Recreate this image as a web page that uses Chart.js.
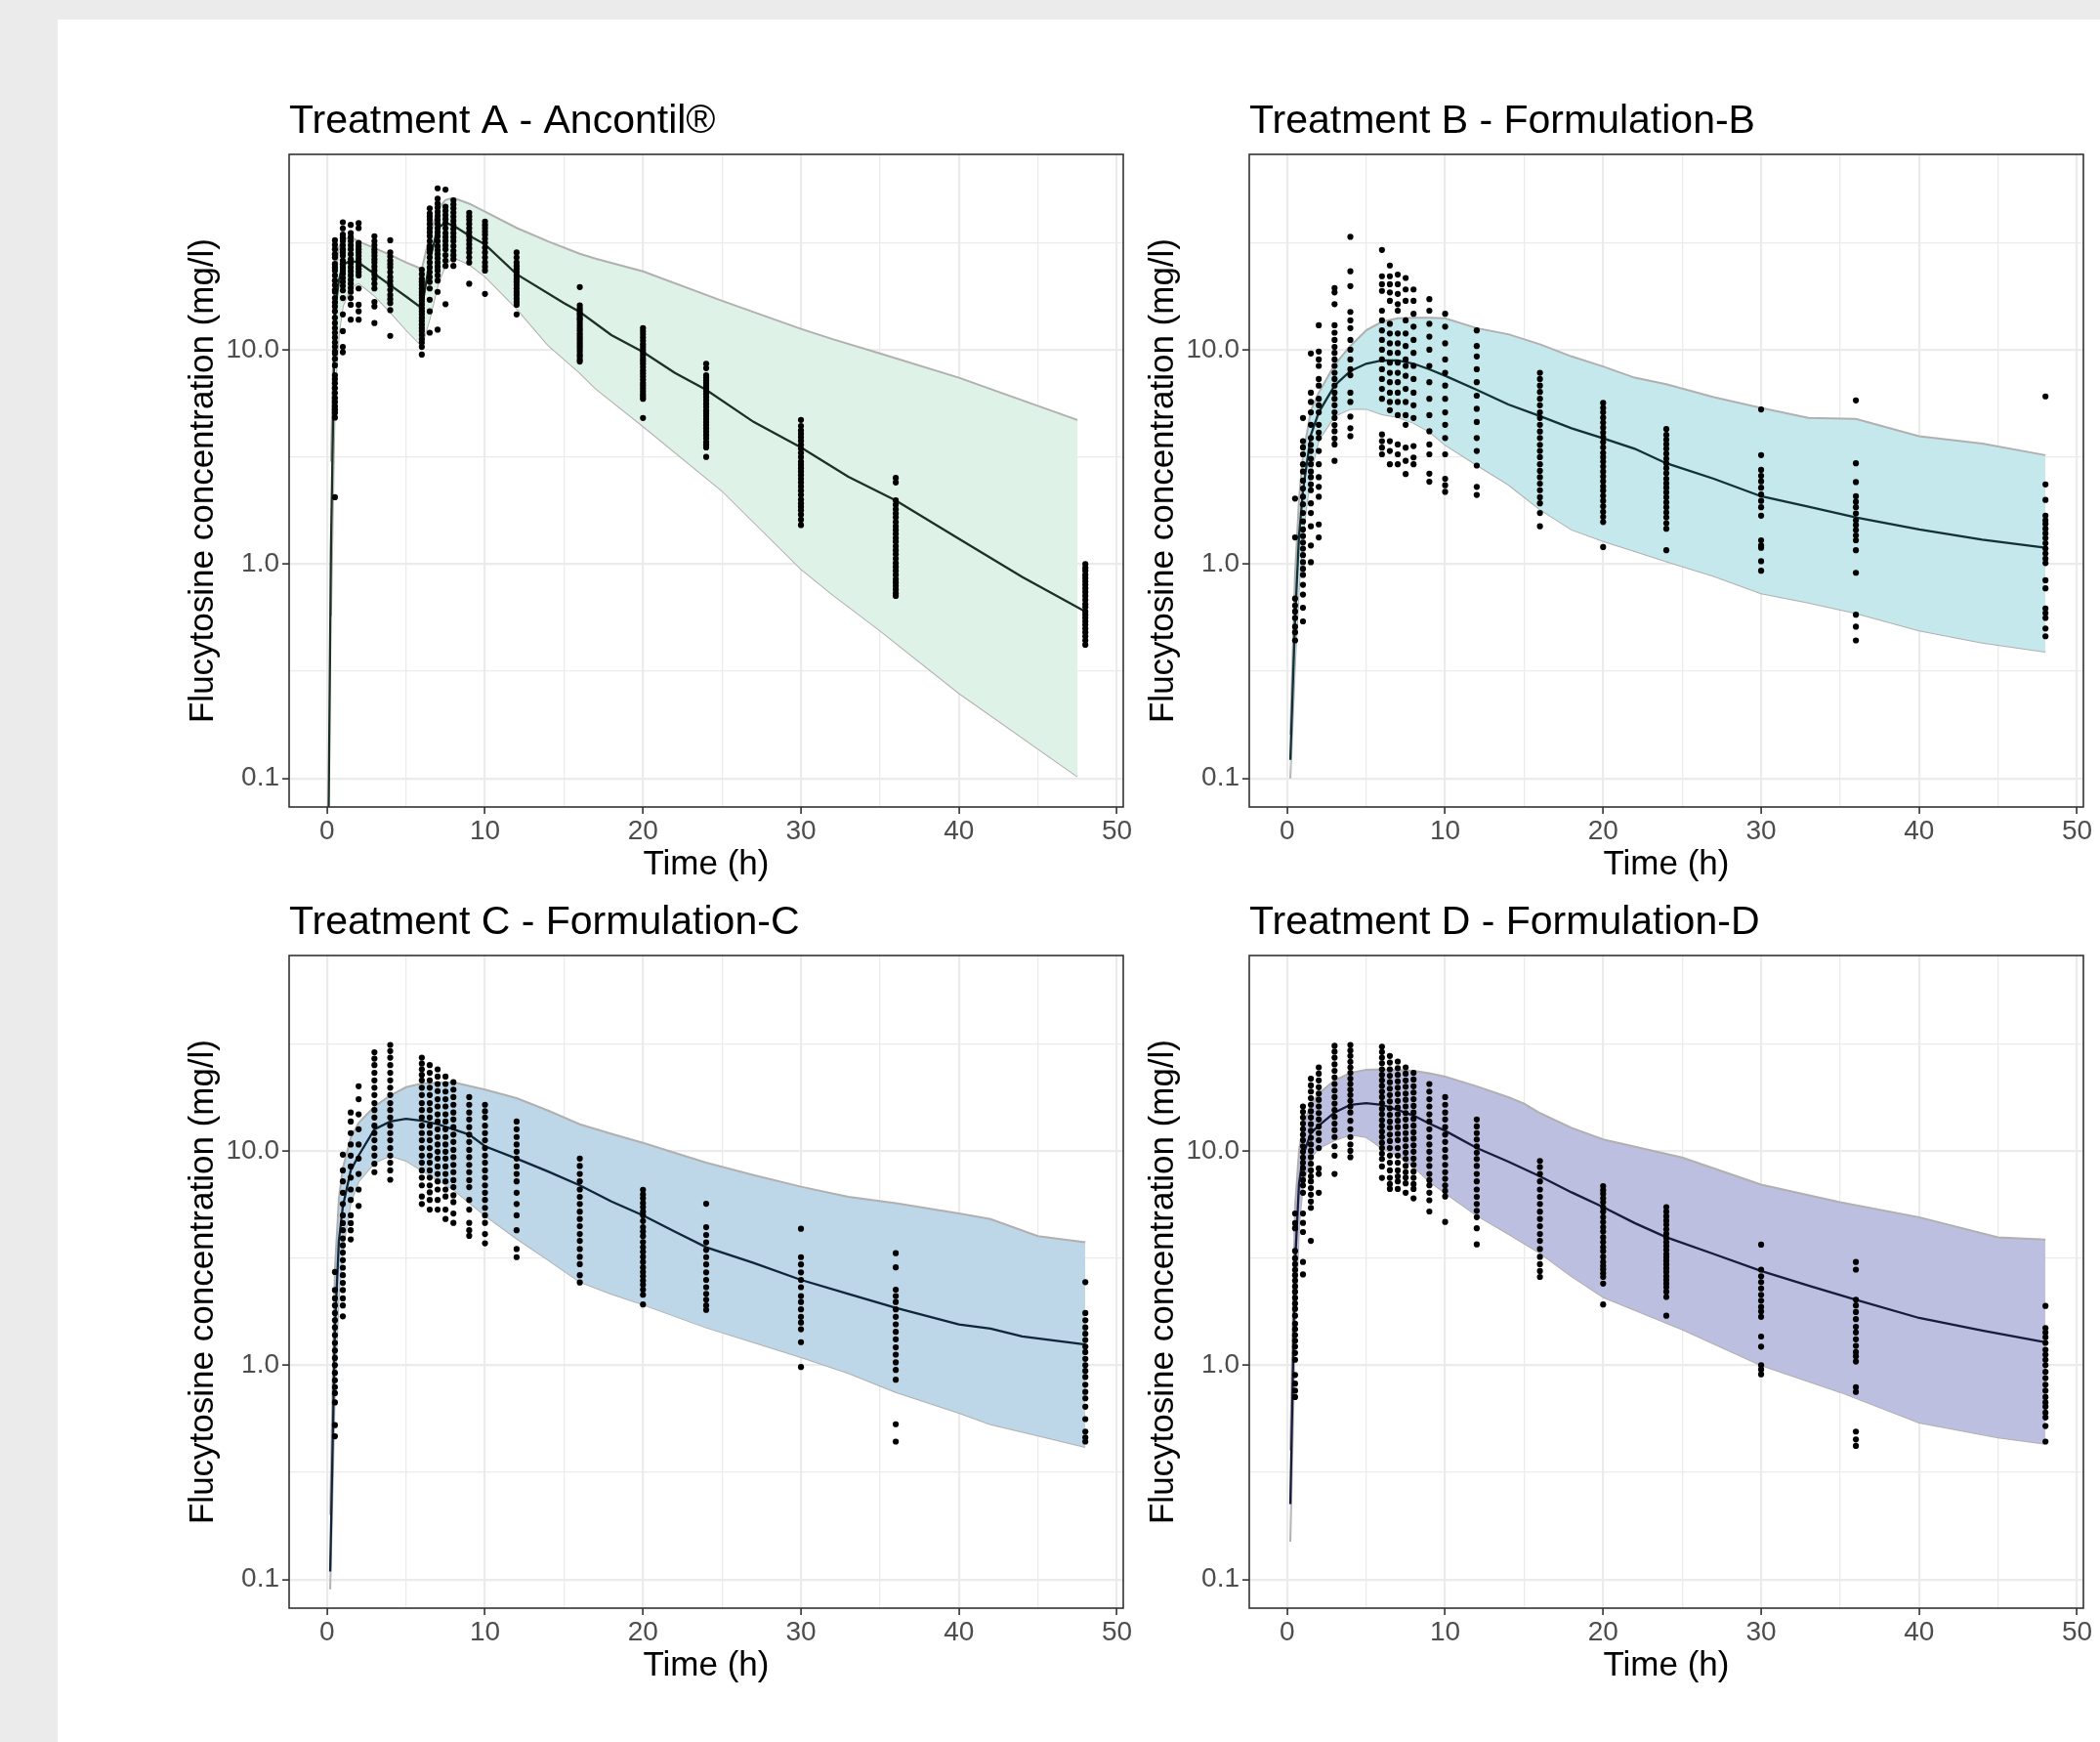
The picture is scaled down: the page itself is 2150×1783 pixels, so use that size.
<!DOCTYPE html>
<html>
<head>
<meta charset="utf-8">
<script src="https://cdn.jsdelivr.net/npm/chart.js@4.4.1/dist/chart.umd.min.js"></script>
<style>
html,body{margin:0;padding:0;width:2150px;height:1783px;overflow:hidden;background:#EBEBEB;}
#sheet{position:absolute;left:59px;top:20px;width:2091px;height:1763px;background:#ffffff;}
canvas{position:absolute;}
</style>
</head>
<body>
<div id="sheet"></div>
<canvas id="cA" width="1020" height="822" style="left:150px;top:94px;width:1020px;height:822px"></canvas>
<canvas id="cB" width="1016" height="822" style="left:1133px;top:94px;width:1016px;height:822px"></canvas>
<canvas id="cC" width="1020" height="822" style="left:150px;top:914px;width:1020px;height:822px"></canvas>
<canvas id="cD" width="1016" height="822" style="left:1133px;top:914px;width:1016px;height:822px"></canvas>
<script>
// ---------------- Titles / labels ----------------
const panelTitles = ['Treatment A - Ancontil®', 'Treatment B - Formulation-B', 'Treatment C - Formulation-C', 'Treatment D - Formulation-D'];
const xAxisTitle = 'Time (h)';
const yAxisTitle = 'Flucytosine concentration (mg/l)';

// ---------------- Axis ticks ----------------
const xMajorTicks = [0, 10, 20, 30, 40, 50];
const xMinorTicks = [5, 15, 25, 35, 45];
const xTickLabels = ['0', '10', '20', '30', '40', '50'];
const yMajorTicks = [0.1, 1, 10];
const yMinorTicks = [0.316, 3.16, 31.6];
const yTickLabels = ['0.1', '1.0', '10.0'];
const xRange = [-2.4, 50.4];
const yRange = [0.0735, 81.5];

// ---------------- Panel A ----------------
const obsTimesA = [0.5, 1, 1.5, 2, 3, 4, 6, 6.5, 7, 7.5, 8, 9, 10, 12, 16, 20, 24, 30, 36, 48];
const obsA = [
  [32.4, 30.8, 29.4, 27.9, 26.9, 25.1, 24.2, 23.4, 22.2, 21.0, 20.0, 19.0, 18.6, 17.4, 16.6, 15.9, 15.1, 14.1, 13.3, 12.6, 12.0, 11.4, 10.8, 10.3, 9.8, 9.6, 9.06, 8.45, 7.6, 7.3, 6.97, 6.61, 6.27, 5.95, 5.7, 5.45, 5.25, 5.08, 4.82, 2.05],
  [39.3, 36.8, 34.4, 33.2, 32.1, 30.7, 29.4, 28.4, 27.4, 26.0, 25.1, 24.2, 23.4, 22.6, 21.6, 20.7, 19.8, 18.9, 17.4, 14.6, 12.2, 10.3, 9.72],
  [38.2, 35.0, 33.5, 32.1, 30.7, 29.4, 27.9, 26.4, 25.3, 24.2, 23.2, 22.2, 21.2, 20.3, 19.4, 18.6, 17.4, 16.2, 13.8],
  [38.9, 36.9, 31.5, 30.4, 29.4, 28.4, 27.4, 26.4, 25.5, 24.6, 23.8, 23.0, 22.2, 19.3, 16.2, 15.1, 13.8],
  [33.8, 32.1, 30.7, 29.4, 28.4, 27.4, 26.4, 25.5, 24.4, 23.4, 22.4, 21.4, 20.3, 19.3, 16.7, 15.9, 13.3],
  [32.4, 28.4, 27.2, 26.0, 25.1, 24.2, 23.0, 21.8, 20.9, 20.0, 19.0, 18.0, 17.2, 16.5, 15.3, 11.6],
  [23.6, 22.5, 21.4, 20.7, 20.0, 19.3, 18.6, 18.0, 17.4, 16.8, 16.2, 15.6, 15.1, 14.6, 14.1, 13.6, 13.1, 12.6, 12.2, 11.7, 11.2, 10.8, 10.3, 9.49],
  [45.6, 43.2, 41.7, 40.3, 38.6, 36.9, 35.3, 33.8, 32.1, 30.4, 29.4, 28.4, 26.9, 25.5, 24.2, 23.0, 21.8, 20.7, 19.3, 17.1, 15.1, 12.0],
  [56.6, 50.6, 48.0, 46.0, 44.0, 42.1, 40.3, 38.6, 36.9, 35.3, 33.8, 32.1, 30.4, 29.1, 27.9, 26.7, 25.5, 24.4, 23.4, 22.2, 21.0, 18.6, 12.4],
  [55.8, 46.4, 44.4, 42.5, 40.7, 38.9, 36.9, 35.0, 33.5, 32.1, 30.7, 29.4, 27.6, 26.0, 24.6, 16.3],
  [49.7, 47.6, 45.6, 43.6, 41.7, 39.9, 38.2, 36.6, 35.0, 33.5, 32.1, 30.4, 28.9, 27.6, 26.4, 24.6],
  [43.5, 41.9, 40.3, 38.6, 36.9, 35.3, 33.8, 32.4, 31.0, 29.7, 28.4, 26.9, 25.5, 20.3],
  [39.6, 38.2, 36.9, 35.6, 34.4, 32.9, 31.5, 29.9, 28.4, 26.9, 25.5, 24.4, 23.4, 18.2],
  [28.4, 26.9, 25.5, 24.6, 23.8, 23.0, 22.2, 21.4, 20.7, 20.0, 19.3, 18.6, 18.0, 17.3, 16.7, 16.2, 14.6],
  [19.6, 16.1, 15.6, 15.2, 14.8, 14.5, 14.1, 13.8, 13.4, 13.0, 12.6, 12.3, 11.9, 11.6, 11.3, 11.0, 10.7, 10.4, 10.1, 9.8, 9.5, 9.3, 9.0, 8.8],
  [12.6, 12.2, 11.8, 11.4, 11.0, 10.6, 10.3, 10.0, 9.7, 9.4, 9.1, 8.85, 8.6, 8.3, 8.0, 7.75, 7.5, 7.25, 7.0, 6.8, 6.6, 6.4, 6.2, 6.05, 5.9, 4.8],
  [8.6, 8.2, 7.6, 7.4, 7.2, 7.0, 6.8, 6.6, 6.4, 6.2, 6.0, 5.8, 5.6, 5.4, 5.2, 5.05, 4.9, 4.75, 4.6, 4.45, 4.3, 4.15, 4.0, 3.85, 3.7, 3.6, 3.5, 3.16],
  [4.7, 4.4, 4.2, 4.05, 3.9, 3.75, 3.6, 3.45, 3.3, 3.15, 3.0, 2.9, 2.8, 2.7, 2.6, 2.5, 2.4, 2.3, 2.2, 2.1, 2.0, 1.92, 1.85, 1.78, 1.7, 1.61, 1.52],
  [2.52, 2.4, 1.98, 1.89, 1.8, 1.72, 1.65, 1.57, 1.5, 1.44, 1.38, 1.32, 1.27, 1.21, 1.16, 1.11, 1.06, 1.01, 0.97, 0.93, 0.89, 0.85, 0.82, 0.79, 0.76, 0.73, 0.71],
  [1.0, 0.96, 0.93, 0.89, 0.86, 0.83, 0.8, 0.77, 0.74, 0.71, 0.68, 0.65, 0.63, 0.6, 0.58, 0.56, 0.54, 0.52, 0.5, 0.48, 0.46, 0.44, 0.42]
];
const lineTimesA = [0, 0.25, 0.5, 0.75, 1, 1.5, 2, 3, 4, 5, 6, 6.5, 7, 7.5, 8, 9, 10, 12, 15, 16, 18, 20, 22, 24, 27, 30, 33, 36, 40, 44, 48];
const medianA = [0.01, 1.2, 15, 21, 25, 26, 25.5, 22.6, 20, 17.7, 15.6, 26, 37, 39, 38, 34, 31, 22.5, 16.5, 15, 11.7, 9.75, 7.8, 6.5, 4.6, 3.5, 2.55, 1.98, 1.31, 0.87, 0.6];
const bandTimesA = [0.25, 0.5, 0.75, 1, 1.5, 2, 3, 4, 5, 6, 6.5, 7, 7.5, 8, 9, 10, 12, 14, 16, 17, 20, 25, 30, 32, 35, 40, 47.5];
const upperA = [3.0, 22, 30, 32.5, 33.5, 32, 29.8, 27.7, 25.5, 23.8, 34, 45, 50, 51, 48, 44, 37, 32, 28, 26.6, 23.2, 16.9, 12.5, 11.2, 9.6, 7.4, 4.7];
const lowerA = [0.57, 6.5, 12, 16, 19.5, 20.5, 17.9, 15.0, 12.4, 10.4, 14, 20, 25, 27, 25, 22, 15.6, 10.5, 7.8, 6.6, 4.4, 2.2, 0.95, 0.72, 0.49, 0.25, 0.102];

// ---------------- Panel B ----------------
const obsTimesB = [0.5, 1, 1.5, 2, 3, 4, 6, 6.5, 7, 7.5, 8, 9, 10, 12, 16, 20, 24, 30, 36, 48];
const obsB = [
  [2.02, 1.33, 0.69, 0.64, 0.6, 0.56, 0.51, 0.48, 0.44],
  [4.8, 3.74, 3.5, 3.25, 2.92, 2.7, 2.45, 2.25, 2.06, 1.9, 1.73, 1.58, 1.45, 1.35, 1.26, 1.18, 1.1, 1.02, 0.95, 0.89, 0.8, 0.72, 0.625, 0.54],
  [9.6, 6.3, 5.7, 5.1, 4.46, 3.87, 3.6, 3.37, 3.1, 2.92, 2.7, 2.54, 2.35, 2.21, 1.92, 1.73, 1.5, 1.22, 1.02],
  [13.0, 9.8, 9.0, 8.4, 7.3, 6.8, 5.9, 5.5, 5.1, 4.46, 4.1, 3.87, 3.37, 2.92, 2.54, 2.29, 2.06, 1.53, 1.33],
  [19.4, 18.5, 16.3, 13.0, 12.0, 11.1, 10.3, 9.66, 9.0, 8.4, 7.8, 7.3, 6.8, 6.3, 5.9, 5.5, 5.1, 4.8, 4.45, 4.16, 3.85, 3.61, 3.03],
  [33.6, 23.2, 19.8, 15.0, 13.7, 12.6, 11.1, 10.0, 9.0, 8.1, 7.6, 6.3, 5.7, 4.87, 4.3, 3.95],
  [29.2, 22.0, 20.2, 18.8, 15.2, 13.7, 12.3, 11.1, 10.0, 9.0, 8.1, 7.3, 6.56, 5.9, 4.02, 3.74, 3.49, 3.25],
  [24.7, 22.0, 20.2, 18.5, 16.9, 13.2, 11.9, 10.7, 9.66, 8.7, 7.8, 7.05, 6.3, 5.7, 5.22, 3.74, 3.37, 2.92],
  [22.4, 20.2, 18.2, 16.3, 15.2, 11.9, 10.7, 9.66, 8.7, 7.8, 7.05, 6.3, 5.7, 4.95, 3.61, 3.25, 2.92],
  [21.6, 19.1, 16.9, 13.7, 11.9, 10.4, 9.0, 8.4, 7.55, 6.56, 5.7, 4.95, 4.46, 3.49, 3.03, 2.63],
  [19.1, 16.9, 14.7, 12.8, 11.1, 9.66, 8.4, 7.3, 6.3, 5.5, 4.8, 3.55, 3.14, 2.92],
  [17.2, 15.2, 13.2, 11.5, 10.0, 8.4, 7.05, 5.9, 4.95, 4.16, 3.61, 3.25, 2.64, 2.42],
  [14.7, 12.8, 10.7, 9.0, 7.8, 6.8, 5.9, 5.1, 4.46, 3.87, 3.25, 2.5, 2.33, 2.17],
  [12.3, 10.4, 9.3, 8.1, 7.05, 6.1, 5.3, 4.6, 3.87, 3.37, 2.88, 2.29, 2.1],
  [7.8, 7.3, 6.8, 6.35, 5.9, 5.5, 5.1, 4.8, 4.46, 4.15, 3.87, 3.6, 3.37, 3.15, 2.92, 2.72, 2.54, 2.37, 2.21, 2.05, 1.92, 1.73, 1.5],
  [5.64, 5.35, 5.1, 4.82, 4.57, 4.33, 4.1, 3.9, 3.7, 3.5, 3.3, 3.15, 3.0, 2.85, 2.7, 2.56, 2.43, 2.3, 2.2, 2.08, 1.97, 1.86, 1.75, 1.66, 1.57, 1.2],
  [4.26, 4.0, 3.8, 3.62, 3.45, 3.27, 3.1, 2.95, 2.8, 2.65, 2.5, 2.38, 2.27, 2.16, 2.05, 1.94, 1.84, 1.74, 1.65, 1.55, 1.46, 1.16],
  [5.26, 3.22, 2.75, 2.58, 2.43, 2.27, 2.11, 1.97, 1.84, 1.68, 1.29, 1.22, 1.19, 1.03, 0.93],
  [5.8, 2.95, 2.41, 2.07, 1.95, 1.84, 1.72, 1.6, 1.52, 1.44, 1.36, 1.29, 1.16, 0.91, 0.58, 0.51, 0.44],
  [6.05, 2.35, 1.99, 1.68, 1.6, 1.54, 1.46, 1.39, 1.32, 1.25, 1.18, 1.12, 1.06, 1.01, 0.84, 0.77, 0.62, 0.59, 0.56, 0.5, 0.46]
];
const lineTimesB = [0.2, 0.5, 0.75, 1, 1.5, 2, 3, 4, 5, 6, 7, 8, 9, 10, 12, 14, 16, 18, 20, 22, 24, 27, 30, 33, 36, 40, 44, 48];
const medianB = [0.122, 0.55, 1.35, 2.2, 4.0, 5.1, 6.8, 7.95, 8.6, 8.9, 8.9, 8.6, 8.1, 7.55, 6.5, 5.55, 4.9, 4.3, 3.86, 3.45, 2.95, 2.5, 2.07, 1.85, 1.65, 1.45, 1.3, 1.19];
const bandTimesB = [0.2, 0.5, 0.75, 1, 1.5, 2, 3, 4, 5, 6, 7, 8, 9, 10, 12, 14, 16, 18, 20, 22, 24, 27, 30, 33, 36, 40, 44, 48];
const upperB = [0.16, 0.9, 2.0, 3.2, 5.2, 6.3, 8.5, 10.4, 12.3, 13.5, 14.0, 14.1, 14.1, 14.0, 12.6, 11.8, 10.6, 9.3, 8.35, 7.4, 6.9, 6.0, 5.35, 4.8, 4.75, 3.95, 3.65, 3.22];
const lowerB = [0.1, 0.35, 0.8, 1.4, 2.7, 3.8, 4.9, 5.3, 5.3, 5.0, 4.85, 4.55, 4.15, 3.6, 2.9, 2.35, 1.8, 1.45, 1.28, 1.15, 1.03, 0.88, 0.73, 0.66, 0.59, 0.49, 0.43, 0.39];

// ---------------- Panel C ----------------
const obsTimesC = [0.5, 1, 1.5, 2, 3, 4, 6, 6.5, 7, 7.5, 8, 9, 10, 12, 16, 20, 24, 30, 36, 48];
const obsC = [
  [2.72, 2.24, 2.05, 1.9, 1.75, 1.62, 1.5, 1.38, 1.27, 1.17, 1.08, 1.0, 0.92, 0.85, 0.79, 0.74, 0.67, 0.525, 0.466],
  [9.6, 8.1, 7.2, 6.37, 5.65, 5.0, 4.6, 4.26, 3.9, 3.62, 3.35, 3.09, 2.85, 2.63, 2.42, 2.24, 2.05, 1.9, 1.69],
  [15.1, 13.7, 12.1, 10.7, 9.5, 8.45, 7.5, 6.6, 5.9, 5.0, 4.6, 4.26, 3.86],
  [20.0, 17.4, 14.8, 12.6, 10.7, 9.2, 7.8, 6.6, 5.53],
  [28.8, 26.9, 25.1, 23.1, 21.3, 19.7, 18.2, 16.7, 15.5, 14.3, 13.1, 12.1, 11.2, 10.3, 9.5, 8.7, 7.95],
  [31.2, 29.2, 27.2, 25.1, 23.1, 21.3, 19.7, 18.2, 16.7, 15.5, 14.3, 13.1, 12.1, 11.2, 10.3, 9.5, 8.8, 8.1, 7.33],
  [27.2, 25.5, 24.0, 22.6, 21.3, 19.7, 18.2, 16.7, 15.5, 14.3, 13.1, 12.1, 11.2, 10.3, 9.5, 8.8, 8.1, 7.5, 6.9, 6.12, 5.65],
  [25.1, 23.1, 21.3, 19.7, 18.2, 16.7, 15.5, 14.3, 13.1, 12.1, 11.2, 10.3, 9.5, 8.8, 8.1, 7.5, 6.9, 6.4, 5.9, 5.32],
  [24.0, 22.2, 20.5, 19.0, 17.4, 16.1, 14.8, 13.7, 12.6, 11.6, 10.7, 9.9, 9.2, 8.45, 7.8, 7.2, 6.6, 5.9, 5.32],
  [22.2, 20.5, 18.9, 17.4, 16.1, 14.8, 13.7, 12.6, 11.6, 10.7, 9.9, 9.2, 8.45, 7.8, 7.2, 6.6, 6.12, 5.32, 4.81],
  [20.9, 19.3, 17.8, 16.4, 15.1, 14.0, 12.9, 11.9, 11.0, 10.1, 9.34, 8.6, 7.95, 7.3, 6.77, 6.2, 5.76, 5.1, 4.61],
  [17.8, 16.4, 15.1, 14.0, 12.9, 11.9, 11.0, 10.1, 9.34, 8.6, 7.95, 7.3, 6.77, 5.9, 5.32, 4.61, 4.26, 4.01],
  [16.4, 15.3, 14.3, 13.1, 12.1, 11.2, 10.3, 9.5, 8.8, 8.1, 7.5, 6.9, 6.37, 5.9, 5.42, 5.0, 4.61, 4.09, 3.7],
  [13.7, 12.6, 11.6, 10.7, 9.9, 9.2, 8.45, 7.8, 7.2, 6.37, 5.65, 5.0, 4.26, 3.48, 3.19],
  [9.2, 8.5, 7.8, 7.2, 6.6, 6.1, 5.65, 5.2, 4.81, 4.45, 4.09, 3.8, 3.48, 3.2, 2.96, 2.63, 2.43],
  [6.58, 6.25, 6.0, 5.7, 5.46, 5.2, 5.0, 4.7, 4.4, 4.2, 4.0, 3.75, 3.55, 3.38, 3.2, 3.03, 2.86, 2.72, 2.6, 2.48, 2.37, 2.25, 2.13, 1.92],
  [5.66, 4.4, 4.05, 3.74, 3.45, 3.19, 2.95, 2.71, 2.5, 2.31, 2.15, 2.02, 1.9, 1.81],
  [4.33, 3.19, 2.95, 2.71, 2.5, 2.31, 2.1, 1.97, 1.82, 1.68, 1.58, 1.47, 1.28, 0.98],
  [3.33, 2.86, 2.25, 2.1, 1.97, 1.82, 1.68, 1.55, 1.43, 1.32, 1.21, 1.12, 1.03, 0.95, 0.855, 0.53, 0.44],
  [2.44, 1.75, 1.62, 1.5, 1.4, 1.31, 1.22, 1.15, 1.07, 1.0, 0.94, 0.88, 0.81, 0.75, 0.7, 0.64, 0.56, 0.49, 0.46, 0.44]
];
const lineTimesC = [0.2, 0.5, 0.75, 1, 1.5, 2, 3, 4, 5, 6, 7, 8, 9, 10, 12, 14, 16, 18, 20, 22, 24, 27, 30, 33, 36, 40, 42, 44, 48];
const medianC = [0.109, 1.5, 3.8, 5.5, 8.1, 9.5, 12.6, 13.7, 14.1, 13.8, 13.3, 12.6, 11.9, 10.5, 9.2, 8.0, 6.9, 5.8, 5.0, 4.2, 3.55, 3.0, 2.5, 2.15, 1.85, 1.55, 1.48, 1.36, 1.25];
const bandTimesC = [0.2, 0.5, 0.75, 1, 1.5, 2, 3, 4, 5, 6, 8, 10, 12, 14, 16, 18, 20, 24, 27, 30, 33, 36, 40, 42, 45, 48];
const upperC = [0.2, 2.8, 6.0, 8.3, 11.5, 13.5, 16.1, 18.1, 19.8, 20.6, 20.9, 19.3, 17.6, 15.4, 13.3, 12.0, 10.9, 8.8, 7.7, 6.8, 6.1, 5.7, 5.1, 4.8, 4.0, 3.74];
const lowerC = [0.09, 0.8, 2.2, 3.5, 5.8, 7.2, 8.8, 9.5, 9.0, 8.1, 6.6, 5.0, 3.9, 3.1, 2.45, 2.15, 1.92, 1.5, 1.28, 1.09, 0.92, 0.75, 0.6, 0.53, 0.47, 0.415];

// ---------------- Panel D ----------------
const obsTimesD = [0.5, 1, 1.5, 2, 3, 4, 6, 6.5, 7, 7.5, 8, 9, 10, 12, 16, 20, 24, 30, 36, 48];
const obsD = [
  [5.1, 4.6, 4.35, 3.41, 3.15, 2.96, 2.78, 2.63, 2.48, 2.33, 2.2, 2.06, 1.94, 1.83, 1.7, 1.56, 1.47, 1.38, 1.3, 1.22, 1.14, 1.06, 0.9, 0.82, 0.76, 0.71],
  [16.1, 15.2, 14.3, 13.4, 12.6, 11.9, 11.2, 10.5, 9.9, 9.3, 8.8, 8.3, 7.8, 7.3, 6.9, 6.37, 5.1, 4.61, 4.18, 3.03, 2.65],
  [21.7, 20.2, 18.9, 17.6, 16.4, 15.3, 14.3, 13.3, 12.4, 11.5, 10.7, 10.0, 9.34, 8.7, 8.1, 7.6, 7.2, 6.7, 6.24, 5.8, 5.42, 3.8],
  [24.5, 22.9, 21.3, 19.8, 18.5, 17.3, 16.1, 15.0, 14.0, 13.0, 12.1, 11.2, 10.3, 8.28, 7.8, 6.37],
  [30.9, 29.0, 27.2, 25.3, 23.6, 22.0, 20.5, 19.1, 17.8, 16.6, 15.5, 14.4, 13.4, 12.5, 11.6, 10.5, 9.5, 7.8],
  [31.2, 29.4, 27.7, 26.0, 24.5, 23.1, 21.7, 20.5, 19.3, 18.2, 17.1, 16.1, 15.1, 13.8, 12.6, 11.6, 10.7, 10.0, 9.34],
  [30.6, 28.9, 27.2, 25.6, 24.0, 22.6, 21.3, 20.1, 18.9, 17.8, 16.7, 15.7, 14.8, 13.9, 13.1, 12.3, 11.6, 10.9, 10.3, 9.7, 9.16, 8.45, 7.48],
  [27.7, 25.8, 24.0, 22.4, 20.9, 19.5, 18.2, 17.0, 15.8, 14.7, 13.7, 12.8, 11.9, 11.1, 10.3, 9.5, 8.8, 8.1, 7.48, 7.0, 6.64],
  [26.1, 24.3, 22.6, 21.1, 19.7, 18.4, 17.1, 15.9, 14.8, 13.8, 12.9, 12.0, 11.2, 10.3, 9.5, 8.8, 8.1, 7.6, 7.2, 6.64],
  [24.5, 22.9, 21.3, 19.9, 18.5, 17.3, 16.1, 15.0, 14.0, 13.0, 12.1, 11.3, 10.5, 9.8, 9.16, 8.5, 7.95, 7.5, 7.05, 6.37],
  [23.1, 21.5, 20.0, 18.7, 17.4, 16.2, 15.1, 14.1, 13.1, 12.2, 11.4, 10.6, 9.9, 9.2, 8.6, 8.0, 7.48, 7.0, 6.64, 6.0],
  [20.5, 18.9, 17.4, 16.1, 14.8, 13.7, 12.6, 11.6, 10.7, 9.9, 9.16, 8.5, 7.8, 7.3, 6.9, 6.37, 5.88, 5.21],
  [17.8, 16.4, 15.1, 14.0, 12.9, 11.9, 11.0, 10.1, 9.34, 8.6, 7.95, 7.4, 6.9, 6.5, 6.12, 4.66],
  [14.0, 13.0, 12.1, 11.3, 10.5, 9.8, 9.16, 8.5, 7.8, 7.2, 6.6, 6.1, 5.65, 5.25, 4.9, 4.35, 3.66],
  [8.97, 8.4, 7.8, 7.2, 6.6, 6.1, 5.65, 5.2, 4.81, 4.45, 4.09, 3.8, 3.48, 3.2, 2.96, 2.75, 2.58],
  [6.84, 6.55, 6.3, 6.0, 5.75, 5.45, 5.2, 4.9, 4.65, 4.4, 4.2, 3.95, 3.75, 3.55, 3.4, 3.2, 3.03, 2.9, 2.8, 2.68, 2.58, 2.4, 1.92],
  [5.46, 5.2, 4.95, 4.72, 4.52, 4.3, 4.1, 3.92, 3.75, 3.6, 3.45, 3.3, 3.19, 3.07, 2.95, 2.83, 2.72, 2.6, 2.5, 2.4, 2.31, 2.2, 2.08, 1.7],
  [3.65, 2.79, 2.6, 2.44, 2.28, 2.13, 2.0, 1.87, 1.78, 1.68, 1.36, 1.22, 1.0, 0.955, 0.906],
  [3.03, 2.79, 2.02, 1.9, 1.77, 1.64, 1.51, 1.42, 1.32, 1.23, 1.15, 1.1, 1.04, 0.79, 0.75, 0.49, 0.45, 0.42],
  [1.89, 1.49, 1.42, 1.35, 1.27, 1.18, 1.12, 1.06, 1.0, 0.93, 0.87, 0.81, 0.76, 0.71, 0.67, 0.64, 0.6, 0.57, 0.52, 0.44]
];
const lineTimesD = [0.2, 0.5, 0.75, 1, 1.5, 2, 3, 4, 5, 6, 7, 8, 9, 10, 12, 14, 16, 18, 20, 22, 24, 27, 30, 33, 36, 40, 44, 48];
const medianD = [0.225, 3.0, 7.0, 9.5, 12.1, 13.1, 15.1, 16.4, 16.7, 16.4, 15.5, 14.6, 13.4, 12.4, 10.3, 8.9, 7.6, 6.4, 5.46, 4.6, 3.95, 3.3, 2.75, 2.35, 2.02, 1.66, 1.45, 1.28];
const bandTimesD = [0.2, 0.5, 0.75, 1, 1.5, 2, 3, 4, 5, 6, 7, 8, 9, 10, 12, 14, 15, 16, 18, 20, 25, 30, 35, 40, 45, 48];
const upperD = [0.4, 5.5, 10, 13, 16.5, 18.5, 21.3, 23.1, 23.9, 24.0, 23.8, 23.6, 23.0, 22.2, 20.0, 17.8, 16.6, 15.0, 12.8, 11.3, 9.3, 6.95, 5.76, 4.9, 3.95, 3.85];
const lowerD = [0.15, 1.5, 4.5, 7.0, 9.3, 10.3, 11.2, 11.9, 11.6, 10.3, 9.5, 8.45, 7.2, 6.37, 5.0, 4.1, 3.7, 3.34, 2.6, 2.08, 1.47, 1.0, 0.75, 0.54, 0.46, 0.43];

// ---------------- Styles ----------------
const bandFills = ['rgb(223,242,231)', 'rgb(196,232,236)', 'rgb(189,215,233)', 'rgb(189,191,224)'];
const lineColors = ['rgb(28,48,36)', 'rgb(18,48,54)', 'rgb(16,36,58)', 'rgb(24,27,60)'];

Chart.defaults.font.family = '"Liberation Sans", Arial, Helvetica, sans-serif';

const panelFrame = {
  id: 'panelFrame',
  afterDatasetsDraw(chart) {
    const a = chart.chartArea, ctx = chart.ctx;
    ctx.save();
    ctx.strokeStyle = '#333333';
    ctx.lineWidth = 1.6;
    ctx.strokeRect(a.left, a.top, a.right - a.left, a.bottom - a.top);
    ctx.restore();
  }
};

function isIn(arr, v) { return arr.some(a => Math.abs(a - v) < 1e-9); }

function makePanel(canvasId, idx, obsTimes, obs, lineTimes, median, bandTimes, upper, lower, padRight) {
  const obsPts = [];
  obsTimes.forEach((t, i) => obs[i].forEach(v => obsPts.push({x: t, y: v})));
  const medPts = lineTimes.map((t, i) => ({x: t, y: median[i]}));
  const upPts = bandTimes.map((t, i) => ({x: t, y: upper[i]}));
  const loPts = bandTimes.map((t, i) => ({x: t, y: lower[i]}));
  const xTicks = xMajorTicks.concat(xMinorTicks).sort((a, b) => a - b);
  const yTicks = yMajorTicks.concat(yMinorTicks).sort((a, b) => a - b);
  return new Chart(document.getElementById(canvasId), {
    type: 'line',
    data: {
      datasets: [
        {data: obsPts, showLine: false, pointRadius: 3.1, pointHoverRadius: 3.1, pointBackgroundColor: '#000000', pointBorderWidth: 0, borderColor: '#000000'},
        {data: medPts, borderColor: lineColors[idx], borderWidth: 2.3, pointRadius: 0, fill: false, tension: 0},
        {data: upPts, borderColor: 'rgb(176,176,176)', borderWidth: 2, pointRadius: 0, fill: '+1', backgroundColor: bandFills[idx], tension: 0},
        {data: loPts, borderColor: 'rgb(176,176,176)', borderWidth: 2, pointRadius: 0, fill: false, tension: 0}
      ]
    },
    options: {
      responsive: false,
      animation: false,
      devicePixelRatio: 1,
      events: [],
      layout: {padding: {top: 10, right: padRight, bottom: 0, left: 0}},
      plugins: {
        legend: {display: false},
        tooltip: {enabled: false},
        title: {
          display: true, text: panelTitles[idx], align: 'start', fullSize: false,
          color: '#000000', font: {size: 41, weight: 'normal', lineHeight: 1},
          padding: {top: 0, bottom: 13}
        }
      },
      scales: {
        x: {
          type: 'linear', min: xRange[0], max: xRange[1],
          afterBuildTicks: s => { s.ticks = xTicks.map(v => ({value: v})); },
          afterFit: s => { s.height = 90; },
          border: {display: false},
          grid: {
            color: '#EBEBEB',
            lineWidth: c => (c.tick && isIn(xMajorTicks, c.tick.value)) ? 2.2 : 1.3,
            tickLength: 7, tickWidth: 1.6,
            tickColor: c => (c.tick && isIn(xMajorTicks, c.tick.value)) ? '#333333' : 'rgba(0,0,0,0)'
          },
          ticks: {
            autoSkip: false, maxRotation: 0, minRotation: 0, padding: 4,
            color: '#4D4D4D', font: {size: 28, lineHeight: 1},
            callback: v => { const i = xMajorTicks.indexOf(v); return i >= 0 ? xTickLabels[i] : ''; }
          },
          title: {display: true, text: xAxisTitle, color: '#000000', font: {size: 35, lineHeight: 1}, padding: {top: 0, bottom: 13}}
        },
        y: {
          type: 'logarithmic', min: yRange[0], max: yRange[1],
          afterBuildTicks: s => { s.ticks = yTicks.map(v => ({value: v})); },
          afterFit: s => { s.width = 146; },
          border: {display: false},
          grid: {
            color: '#EBEBEB',
            lineWidth: c => (c.tick && isIn(yMajorTicks, c.tick.value)) ? 2.2 : 1.3,
            tickLength: 7, tickWidth: 1.6,
            tickColor: c => (c.tick && isIn(yMajorTicks, c.tick.value)) ? '#333333' : 'rgba(0,0,0,0)'
          },
          ticks: {
            autoSkip: false, padding: 3,
            color: '#4D4D4D', font: {size: 28, lineHeight: 1},
            callback: v => { for (let i = 0; i < yMajorTicks.length; i++) { if (Math.abs(yMajorTicks[i] - v) < 1e-9) return yTickLabels[i]; } return ''; }
          },
          title: {display: true, text: yAxisTitle, color: '#000000', font: {size: 35, lineHeight: 1}, padding: {top: 41, bottom: 0}}
        }
      }
    },
    plugins: [panelFrame]
  });
}

makePanel('cA', 0, obsTimesA, obsA, lineTimesA, medianA, bandTimesA, upperA, lowerA, 20);
makePanel('cB', 1, obsTimesB, obsB, lineTimesB, medianB, bandTimesB, upperB, lowerB, 16);
makePanel('cC', 2, obsTimesC, obsC, lineTimesC, medianC, bandTimesC, upperC, lowerC, 20);
makePanel('cD', 3, obsTimesD, obsD, lineTimesD, medianD, bandTimesD, upperD, lowerD, 16);
</script>
</body>
</html>
